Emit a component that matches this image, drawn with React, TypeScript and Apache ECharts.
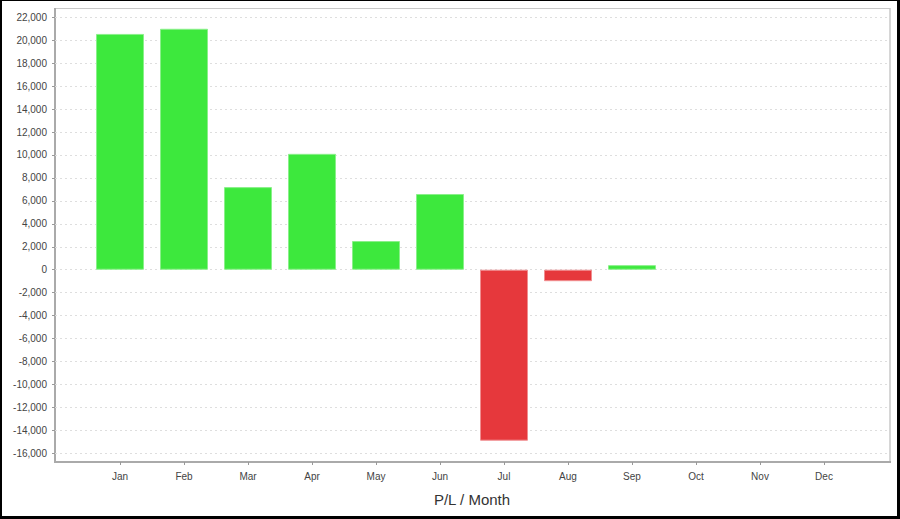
import React, { useEffect, useRef } from "react";
import * as echarts from "echarts";

const months = ["Jan", "Feb", "Mar", "Apr", "May", "Jun", "Jul", "Aug", "Sep", "Oct", "Nov", "Dec"];
const plValues: (number | null)[] = [20550, 21000, 7200, 10100, 2500, 6600, -14900, -1000, 400, null, null, null];
const yMin = -16000;
const yMax = 22000;
const yStep = 2000;

const GREEN = "#3de83d";
const GREEN_BORDER = "#8af08a";
const RED = "#e6383c";
const RED_BORDER = "#f08e90";

export default function App() {
  const ref = useRef<HTMLDivElement>(null);
  useEffect(() => {
    if (!ref.current) return;
    const chart = echarts.init(ref.current, undefined, { renderer: "svg" });
    const font = "Liberation Sans, Arial, sans-serif";
    const top = 17.3;
    const bottom = 519 - 453.3;
    chart.setOption({
      animation: false,
      backgroundColor: "#fff",
      grid: [
        { left: 55, right: 10, top, bottom },
        { left: 88, right: 44, top, bottom },
      ],
      xAxis: [
        { type: "value", gridIndex: 0, show: false, min: 0, max: 1 },
        {
          type: "category",
          gridIndex: 1,
          data: months,
          offset: 8.7,
          axisLine: { show: false, onZero: false },
          axisTick: { show: true, alignWithLabel: true, length: 3, lineStyle: { color: "#999" } },
          axisLabel: { color: "#444", fontSize: 10, fontFamily: font, margin: 9 },
          name: "P/L / Month",
          nameLocation: "middle",
          nameGap: 30,
          nameTextStyle: { color: "#333", fontSize: 15, fontFamily: font },
          splitLine: { show: false },
        },
      ],
      yAxis: [
        {
          type: "value",
          gridIndex: 0,
          min: yMin,
          max: yMax,
          interval: yStep,
          axisLine: { show: false },
          axisTick: { show: true, length: 3, lineStyle: { color: "#999" } },
          axisLabel: {
            color: "#444",
            fontSize: 10,
            fontFamily: font,
            margin: 8,
            formatter: (v: number) => v.toLocaleString("en-US"),
          },
          splitLine: { show: true, lineStyle: { color: "#dedede", type: [2, 3], width: 1 } },
        },
        { type: "value", gridIndex: 1, min: yMin, max: yMax, interval: yStep, show: false, splitLine: { show: false } },
      ],
      series: [
        {
          type: "bar",
          xAxisIndex: 1,
          yAxisIndex: 1,
          barCategoryGap: "25%",
          data: plValues.map((v) => ({
            value: v,
            itemStyle: {
              color: v !== null && v < 0 ? RED : GREEN,
              borderColor: v !== null && v < 0 ? RED_BORDER : GREEN_BORDER,
              borderWidth: 1,
            },
          })),
        },
      ],
      graphic: [
        { type: "line", shape: { x1: 55, y1: 8.5, x2: 890, y2: 8.5 }, style: { stroke: "#c8c8c8", lineWidth: 1 } },
        { type: "line", shape: { x1: 890, y1: 8, x2: 890, y2: 462 }, style: { stroke: "#c8c8c8", lineWidth: 1.5 } },
        { type: "line", shape: { x1: 55, y1: 8, x2: 55, y2: 463 }, style: { stroke: "#aaaaaa", lineWidth: 2 } },
        { type: "line", shape: { x1: 54, y1: 462, x2: 891, y2: 462 }, style: { stroke: "#aaaaaa", lineWidth: 2 } },
        { type: "line", shape: { x1: 0, y1: 0.5, x2: 900, y2: 0.5 }, style: { stroke: "#000", lineWidth: 1 } },
        { type: "line", shape: { x1: 1, y1: 0, x2: 1, y2: 519 }, style: { stroke: "#000", lineWidth: 2 } },
        { type: "line", shape: { x1: 898.5, y1: 0, x2: 898.5, y2: 519 }, style: { stroke: "#000", lineWidth: 3 } },
        { type: "line", shape: { x1: 0, y1: 517.5, x2: 900, y2: 517.5 }, style: { stroke: "#000", lineWidth: 3 } },
      ],
    });
    return () => chart.dispose();
  }, []);
  return (
    <div
      ref={ref}
      style={{ position: "absolute", left: 0, top: 0, width: 900, height: 519 }}
    />
  );
}
